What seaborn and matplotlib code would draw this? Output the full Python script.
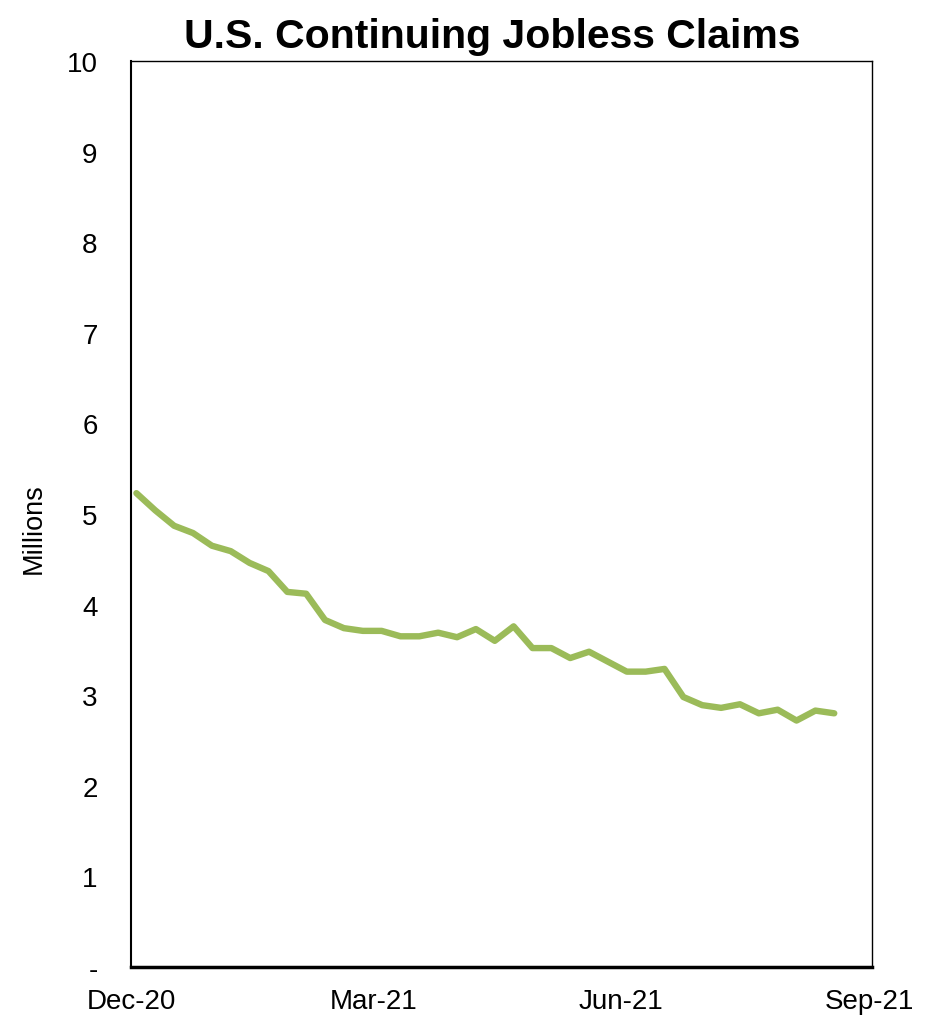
import matplotlib
matplotlib.use('Agg')
import matplotlib.pyplot as plt
import matplotlib.dates as mdates
import seaborn as sns
import pandas as pd

# weekly continuing claims, millions
weeks = pd.date_range('2020-12-03', periods=38, freq='7D')
claims = [5.23, 5.04, 4.87, 4.79, 4.65, 4.59, 4.46, 4.37, 4.14, 4.12,
          3.83, 3.74, 3.71, 3.71, 3.65, 3.65, 3.69, 3.64, 3.73, 3.60,
          3.76, 3.52, 3.52, 3.41, 3.48, 3.37, 3.26, 3.26, 3.29, 2.98,
          2.89, 2.86, 2.90, 2.80, 2.84, 2.72, 2.83, 2.80]

xticks = ['2020-12-01', '2021-03-01', '2021-06-01', '2021-09-01']
yticks = [0, 1, 2, 3, 4, 5, 6, 7, 8, 9, 10]
ylabels = ['-', '1', '2', '3', '4', '5', '6', '7', '8', '9', '10']

df = pd.DataFrame({'week': weeks, 'claims': claims})

sns.set_style('white')
plt.rcParams['font.family'] = ['Liberation Sans', 'DejaVu Sans']
plt.rcParams['text.color'] = 'black'
plt.rcParams['axes.labelcolor'] = 'black'
plt.rcParams['xtick.color'] = 'black'
plt.rcParams['ytick.color'] = 'black'

fig = plt.figure(figsize=(9.38, 10.2), dpi=100)
ax = fig.add_axes([0.1397, 0.051, 0.7899, 0.8882])

sns.lineplot(data=df, x='week', y='claims', ax=ax, color='#9BBB59', linewidth=4.6)

ax.set_xlim(pd.Timestamp('2020-12-01'), pd.Timestamp('2021-09-02'))
ax.set_ylim(0, 10)
ax.set_xticks(pd.to_datetime(xticks))
ax.xaxis.set_major_formatter(mdates.DateFormatter('%b-%y'))
ax.set_yticks(yticks)
ax.set_yticklabels(ylabels)
ax.tick_params(axis='both', length=0, labelsize=20)
ax.tick_params(axis='y', pad=24)
ax.tick_params(axis='x', pad=15)

for side in ['top', 'right']:
    ax.spines[side].set_color('black')
    ax.spines[side].set_linewidth(1.0)
ax.spines['left'].set_color('black')
ax.spines['left'].set_linewidth(1.5)
ax.spines['bottom'].set_color('black')
ax.spines['bottom'].set_linewidth(2.5)

ax.set_xlabel('')
ax.set_ylabel('Millions', fontsize=19.5)
ax.yaxis.set_label_coords(-0.114, 0.485)
ax.set_title('U.S. Continuing Jobless Claims', fontsize=29.5, fontweight='bold',
             pad=10, x=0.487)

plt.savefig('out.png', dpi=100)
plt.close()
